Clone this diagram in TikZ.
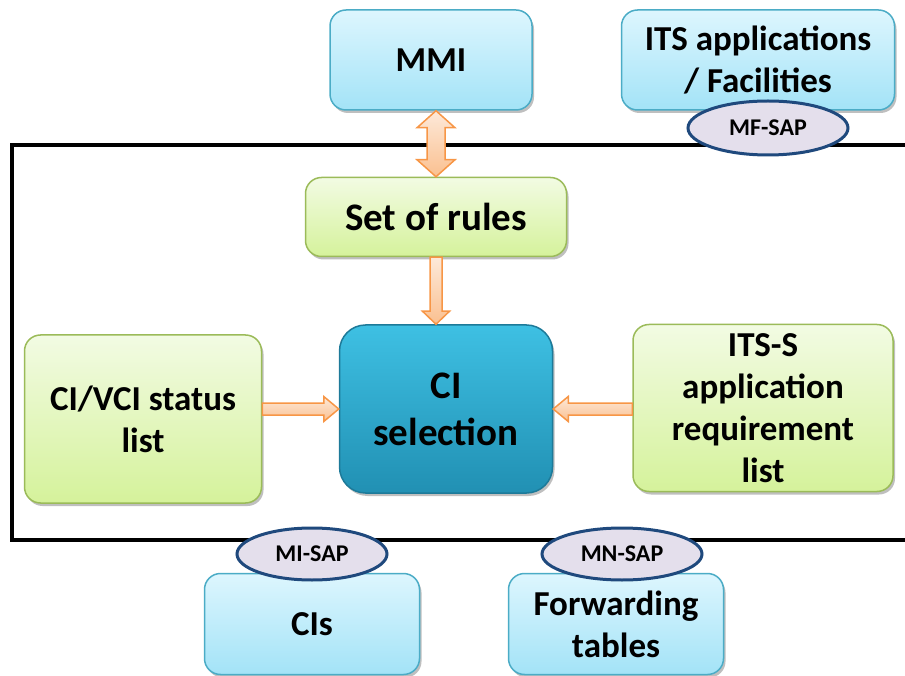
\documentclass[tikz,border=0pt]{standalone}
\usepackage{fontspec}
\setmainfont{Carlito}
\usetikzlibrary{
        calc,
        positioning,
        shadows,
        shapes.geometric
    }
\definecolor{bluetop}{HTML}{DDF6FE}
\definecolor{bluebot}{HTML}{A3E3F7}
\definecolor{blueline}{HTML}{4BACC6}
\definecolor{greentop}{HTML}{F2FBE3}
\definecolor{greenbot}{HTML}{D5F29B}
\definecolor{greenline}{HTML}{9BBB59}
\definecolor{seltop}{HTML}{3EC0E3}
\definecolor{selbot}{HTML}{2190B3}
\definecolor{selline}{HTML}{1D7A99}
\definecolor{sapfill}{HTML}{E4DFEC}
\definecolor{sapline}{HTML}{1F497D}
\definecolor{arrtop}{HTML}{FDE9D9}
\definecolor{arrbot}{HTML}{FAC090}
\definecolor{arrline}{HTML}{F79646}
\tikzset{
  box/.style={rounded corners=16pt,line width=1.5pt,inner sep=0pt,align=center,
    font=\fontsize{35}{42}\selectfont\bfseries,
    drop shadow={shadow xshift=2pt,shadow yshift=-3pt,opacity=0.25,fill=black}},
  bluebox/.style={box,draw=blueline,top color=bluetop,bottom color=bluebot},
  greenbox/.style={box,draw=greenline,top color=greentop,bottom color=greenbot},
  selbox/.style={box,rounded corners=26pt,draw=selline,top color=seltop,bottom color=selbot,
    font=\fontsize{39}{47}\selectfont\bfseries},
  sap/.style={ellipse,draw=sapline,line width=3pt,fill=sapfill,inner sep=0pt,
    font=\fontsize{24}{28}\selectfont\bfseries},
  blockarrow/.style={draw=arrline,line width=1.5pt,top color=arrtop,bottom color=arrbot,line join=miter}
}
% block arrow: start, tip, shaft half width, head half width, head length
\newcommand\blockarrow[5]{%
  \coordinate (ba-s) at (#1);
  \coordinate (ba-t) at (#2);
  \coordinate (ba-h) at ($(ba-t)!#5!(ba-s)$);
  \path[blockarrow] ($(ba-s)!#3!90:(ba-t)$) -- ($(ba-h)!#3!90:(ba-t)$) -- ($(ba-h)!#4!90:(ba-t)$)
    -- (ba-t) -- ($(ba-h)!#4!-90:(ba-t)$) -- ($(ba-h)!#3!-90:(ba-t)$) -- ($(ba-s)!#3!-90:(ba-t)$) -- cycle;
}
% same with a head on both ends
\newcommand\doublearrow[5]{%
  \coordinate (da-s) at (#1);
  \coordinate (da-t) at (#2);
  \coordinate (da-h) at ($(da-t)!#5!(da-s)$);
  \coordinate (da-g) at ($(da-s)!#5!(da-t)$);
  \path[blockarrow] (da-s) -- ($(da-g)!#4!90:(da-t)$) -- ($(da-g)!#3!90:(da-t)$) -- ($(da-h)!#3!90:(da-t)$)
    -- ($(da-h)!#4!90:(da-t)$) -- (da-t) -- ($(da-h)!#4!-90:(da-t)$) -- ($(da-h)!#3!-90:(da-t)$)
    -- ($(da-g)!#3!-90:(da-t)$) -- ($(da-g)!#4!-90:(da-t)$) -- cycle;
}

\begin{document}
\begin{tikzpicture}[x=1pt,y=-1pt]
    \path[use as bounding box] (0,0) rectangle (905,676);

    % the management entity
    \draw[line width=4pt] (905,145) -- (12,145) -- (12,540) -- (905,540);

    \node[bluebox,minimum width=202pt,minimum height=100pt] (mmi) at (431,60) {MMI};
    \node[bluebox,minimum width=273pt,minimum height=100pt] (itsapp) at (758,60) {ITS applications\\/ Facilities};
    \node[greenbox,minimum width=261pt,minimum height=79pt,font=\fontsize{39}{47}\selectfont\bfseries]
        (rules) at (436,217) {Set of rules};
    \node[selbox,minimum width=213pt,minimum height=168pt] (sel) at (446,409) {CI\\selection};
    \node[greenbox,minimum width=237pt,minimum height=168pt] (status) at (143,419) {CI/VCI status\\list};
    \node[greenbox,minimum width=260pt,minimum height=167pt] (req) at (763,408)
        {ITS-S\\application\\requirement\\list};
    \node[bluebox,minimum width=215pt,minimum height=101pt] (cis) at (312,624) {CIs};
    \node[bluebox,minimum width=215pt,minimum height=101pt] (fwd) at (616,624) {Forwarding\\tables};

    % service access points
    \node[sap,minimum width=160pt,minimum height=54pt] (mfsap) at (768,128) {MF-SAP};
    \node[sap,minimum width=150pt,minimum height=52pt] (misap) at (312,554) {MI-SAP};
    \node[sap,minimum width=160pt,minimum height=52pt] (mnsap) at (622,554) {MN-SAP};

    \doublearrow{rules.north |- mmi.south}{rules.north}{9pt}{19pt}{17pt}
    \blockarrow{rules.south}{rules.south |- sel.north}{6pt}{13.5pt}{13pt}
    \blockarrow{status.east |- sel.west}{sel.west}{6pt}{12.5pt}{15pt}
    \blockarrow{req.west |- sel.east}{sel.east}{6pt}{12.5pt}{15pt}
\end{tikzpicture}
\end{document}
